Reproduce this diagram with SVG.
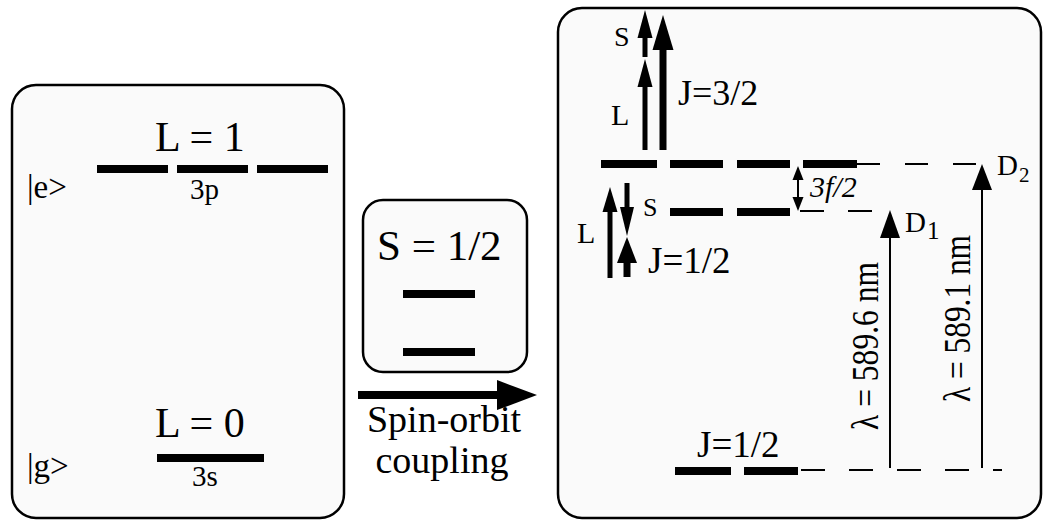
<svg xmlns="http://www.w3.org/2000/svg" width="1047" height="520" viewBox="0 0 1047 520">
<rect width="1047" height="520" fill="#fff"/>
<g id="ground-excited-box">
<rect x="12" y="85" width="332" height="433" rx="24" fill="#fafafa" stroke="#000" stroke-width="2.5"/>
<g fill="#000">
<rect x="97" y="165" width="71" height="8"/>
<rect x="177" y="165" width="71" height="8"/>
<rect x="257" y="165" width="71" height="8"/>
<rect x="157" y="454" width="107" height="8"/>
</g>
<text x="155" y="151" font-size="42" font-family="Liberation Serif">L = 1</text>
<text x="190" y="199" font-size="29" font-family="Liberation Serif">3p</text>
<text x="27" y="198" font-size="33" font-family="Liberation Serif">|e&gt;</text>
<text x="155" y="437" font-size="42" font-family="Liberation Serif">L = 0</text>
<text x="192" y="486" font-size="29" font-family="Liberation Serif">3s</text>
<text x="27" y="477" font-size="33" font-family="Liberation Serif">|g&gt;</text>
</g>
<g id="spin-box">
<rect x="363" y="200" width="164" height="172" rx="20" fill="#fafafa" stroke="#000" stroke-width="2.5"/>
<rect x="403" y="290" width="72" height="8" fill="#000"/>
<rect x="403" y="348" width="72" height="8" fill="#000"/>
<text x="377" y="260" font-size="43" font-family="Liberation Serif">S = 1/2</text>
</g>
<g id="coupling-arrow">
<rect x="358" y="391" width="140" height="8" fill="#000"/>
<polygon points="497,380 537,395 497,410" fill="#000"/>
<text x="444" y="432" font-size="38" text-anchor="middle" font-family="Liberation Serif">Spin-orbit</text>
<text x="442" y="473" font-size="38" text-anchor="middle" font-family="Liberation Serif">coupling</text>
</g>
<g id="fine-structure-box">
<rect x="558" y="8" width="483" height="510" rx="24" fill="#fafafa" stroke="#000" stroke-width="2.5"/>
<g fill="#000">
<rect x="601" y="160" width="56" height="8"/>
<rect x="670" y="160" width="53" height="8"/>
<rect x="737" y="160" width="53" height="8"/>
<rect x="803" y="160" width="54" height="8"/>
<rect x="670" y="208" width="53" height="8"/>
<rect x="737" y="208" width="53" height="8"/>
<rect x="675" y="467" width="56" height="8"/>
<rect x="744" y="467" width="54" height="8"/>
<rect x="642.5" y="86" width="5" height="64"/>
<polygon points="645,59 637.5,87 652.5,87"/>
<rect x="642.5" y="37" width="5" height="20"/>
<polygon points="645,10 637.5,38 652.5,38"/>
<rect x="659.5" y="49" width="7" height="101"/>
<polygon points="663,15 652.5,50 673.5,50"/>
<rect x="607.5" y="211" width="5" height="67"/>
<polygon points="610,187 602.5,212 617.5,212"/>
<rect x="624.5" y="183" width="5" height="25"/>
<polygon points="627,236 620,207 634,207"/>
<rect x="623.5" y="262" width="7" height="15"/>
<polygon points="627,237 617,263 637,263"/>
</g>
<text x="697" y="457" font-size="37" font-family="Liberation Serif">J=1/2</text>
<text x="614" y="46" font-size="28" font-family="Liberation Serif">S</text>
<text x="611" y="125" font-size="30" font-family="Liberation Serif">L</text>
<text x="678" y="105" font-size="36" font-family="Liberation Serif">J=3/2</text>
<text x="643" y="216" font-size="26" font-family="Liberation Serif">S</text>
<text x="577" y="243" font-size="30" font-family="Liberation Serif">L</text>
<text x="648" y="273" font-size="37" font-family="Liberation Serif">J=1/2</text>
<text x="810" y="197" font-size="30" font-style="italic" font-family="Liberation Serif">3f/2</text>
<text x="905" y="232" font-size="29" font-family="Liberation Serif">D</text>
<text x="927" y="239" font-size="25" font-family="Liberation Serif">1</text>
<text x="997" y="175" font-size="29" font-family="Liberation Serif">D</text>
<text x="1019" y="182" font-size="21" font-family="Liberation Serif">2</text>
<text transform="translate(878,430) rotate(-90)" font-size="37" textLength="168" lengthAdjust="spacingAndGlyphs" font-family="Liberation Serif">&#955; = 589.6 nm</text>
<text transform="translate(970,402) rotate(-90)" font-size="37" textLength="167" lengthAdjust="spacingAndGlyphs" font-family="Liberation Serif">&#955; = 589.1 nm</text>
</g>
<g id="connectors" stroke="#000" stroke-width="2" fill="none">
<line x1="857" y1="164" x2="980" y2="164" stroke-dasharray="23 25"/>
<line x1="800" y1="211" x2="872" y2="211" stroke-dasharray="24 24"/>
<line x1="801" y1="470" x2="1002" y2="470" stroke-dasharray="24 24"/>
<line x1="798" y1="178" x2="798" y2="199"/>
<line x1="890" y1="236" x2="890" y2="468"/>
<line x1="982" y1="188" x2="982" y2="468"/>
<g fill="#000" stroke="none">
<polygon points="798,166 792.5,180 803.5,180"/>
<polygon points="798,211 792.5,197 803.5,197"/>
<polygon points="890,210 880,238 900,238"/>
<polygon points="982,164 972,190 992,190"/>
</g>
</g>
</svg>
